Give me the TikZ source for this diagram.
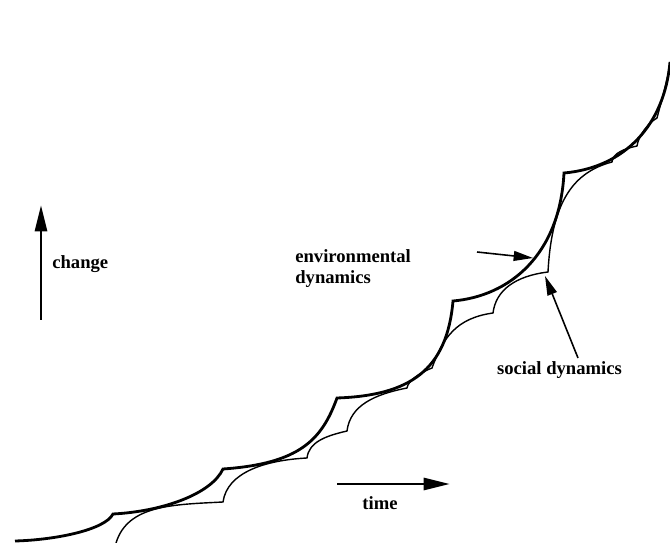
\documentclass[tikz,border=0pt]{standalone}
\usepackage{fontspec}
\setmainfont{Liberation Serif}
\usetikzlibrary{arrows.meta}
\begin{document}
\begin{tikzpicture}[
        envline/.style = {line width = 1.6pt},
        socline/.style = {line width = 0.8pt},
        dyntext/.style = {font = \bfseries\fontsize{10.6}{12}\selectfont, inner sep = 0pt},
        bigarrow/.style = {line width = 1.7pt, -{Triangle[length = 15pt, width = 6.8pt]}},
        pointer/.style = {line width = 0.9pt, -{Triangle[length = 11pt, width = 5.6pt]}}
    ]
    \useasboundingbox (0, 0) rectangle (13.4, 10.86);

    \draw[envline] (0.30, 0.04)
        to[out = 1.5, in = 243, out distance = 0.80cm, in distance = 0.36cm] (2.26, 0.58)
        to[out = 3,   in = 245, out distance = 1.00cm, in distance = 0.55cm] (4.46, 1.48)
        to[out = 4,   in = 250, out distance = 1.54cm, in distance = 0.89cm] (6.74, 2.90)
        to[out = 2,   in = 265, out distance = 1.46cm, in distance = 1.39cm] (9.06, 4.84)
        to[out = 5,   in = 267, out distance = 1.14cm, in distance = 1.64cm] (11.28, 7.40)
        to[out = 5,   in = 265, out distance = 1.22cm, in distance = 1.26cm] (13.40, 9.62);

    \draw[socline] (2.32, 0.00)
        to[out = 73, in = 183, out distance = 0.80cm, in distance = 1.00cm] (4.46, 0.82)
        to[out = 82, in = 183, out distance = 0.60cm, in distance = 0.84cm] (6.14, 1.70)
        to[out = 83, in = 193, out distance = 0.32cm, in distance = 0.45cm] (6.94, 2.24)
        to[out = 83, in = 191, out distance = 0.52cm, in distance = 0.65cm] (8.14, 3.10)
        to[out = 82, in = 201, out distance = 0.14cm, in distance = 0.28cm] (8.64, 3.50)
        to[out = 70, in = 188, out distance = 0.64cm, in distance = 0.75cm] (9.86, 4.60)
        to[out = 83, in = 187, out distance = 0.46cm, in distance = 0.66cm] (10.96, 5.42)
        to[out = 87, in = 195, out distance = 1.44cm, in distance = 0.78cm] (12.24, 7.62)
        to[out = 86, in = 192, out distance = 0.18cm, in distance = 0.25cm] (12.74, 7.94)
        to[out = 82, in = 210, out distance = 0.20cm, in distance = 0.22cm] (13.14, 8.50)
        to[out = 76, in = 265, out distance = 0.25cm, in distance = 0.30cm] (13.40, 9.62);

    \coordinate (up0) at (0.82, 4.46);
    \coordinate (up1) at (0.82, 6.76);
    \node (change) [dyntext, anchor = base west] at (1.04, 5.48) {change};
    \draw[bigarrow] (up0) -- (up1);

    \coordinate (rt0) at (6.74, 1.18);
    \coordinate (rt1) at (9.00, 1.18);
    \node (time) [dyntext, anchor = base] at (7.60, 0.66) {time};
    \draw[bigarrow] (rt0) -- (rt1);

    \node (env) [dyntext, align = left, anchor = west] at (5.90, 5.48) {environmental\\dynamics};
    \coordinate (envtail) at (9.54, 5.82);
    \coordinate (envtip) at (10.66, 5.70);
    \draw[pointer] (envtail) -- (envtip);

    \node (soc) [dyntext, anchor = base] at (11.19, 3.36) {social dynamics};
    \coordinate (soctail) at (11.56, 3.70);
    \coordinate (soctip) at (10.90, 5.34);
    \draw[pointer] (soctail) -- (soctip);
\end{tikzpicture}
\end{document}
